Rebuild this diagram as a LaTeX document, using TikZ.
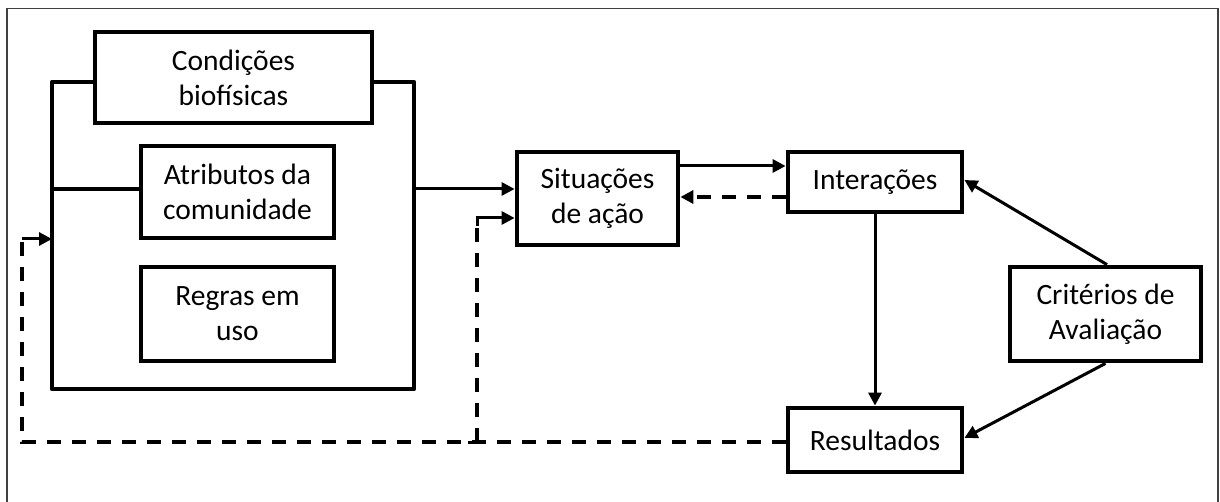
\documentclass[tikz,border=0pt]{standalone}
\usepackage{fontspec}
\setmainfont{Carlito}
\usetikzlibrary{arrows.meta}
\tikzset{
  box/.style={draw, line width=4.8pt, align=center, inner sep=0pt,
    font=\fontsize{29.5}{35}\selectfont},
  tip/.style={-{Triangle[length=13pt,width=13pt]}},
  link/.style={line width=3pt, tip},
  back/.style={line width=3.2pt, dash pattern=on 14pt off 11pt},
}
\begin{document}
\begin{tikzpicture}[x=1pt,y=-1pt]
\useasboundingbox (0,0) rectangle (1220,502);
% page frame (open at the bottom)
\draw[line width=1.4pt, black!75] (7,502) -- (7,8.5) -- (1218,8.5) -- (1218,502);

% boxes
\node[box, minimum width=277pt, minimum height=91pt] (cond) at (233.5,77.5) {Condições\\biofísicas};
\node[box, minimum width=193pt, minimum height=92pt] (attr) at (237.5,192) {Atributos da\\comunidade};
\node[box, minimum width=193pt, minimum height=94pt] (regr) at (237.5,314) {Regras em\\uso};
\node[box, minimum width=161pt, minimum height=93pt] (sit) at (597.5,198.5) {Situações\\de ação};
\node[box, minimum width=174pt, minimum height=60pt] (inter) at (875,182) {Interações};
\node[box, minimum width=174pt, minimum height=64pt] (res) at (875,440) {Resultados};
\node[box, minimum width=191pt, minimum height=94pt] (crit) at (1105.5,314) {Critérios de\\Avaliação};

% grouping frame around the contextual variables
\coordinate (gL) at (52,189);
\coordinate (gR) at (414,189);
\coordinate (gIn) at (52,239);
\draw[line width=4.8pt, line join=round]
  (cond.west |- 0,82) -- (52,82) -- (52,389) -- (414,389) -- (414,82) -- (cond.east |- 0,82);
\draw[line width=4.8pt] (gL) -- (attr.west |- gL);

% main flow
\draw[link] (gR) -- (sit.west |- gR);
\draw[link] (sit.east |- 0,166) -- (inter.west |- 0,166);
\draw[back, tip] (inter.west |- 0,197) -- (sit.east |- 0,197);
\draw[link] (inter.south) -- (res.north);
\draw[link] (crit.north) ++(1.5,0) -- (inter.east |- 0,180);
\draw[link] (crit.south) -- (res.east |- 0,438);

% feedback from outcomes
\coordinate (fb) at (477,442);
\coordinate (fbL) at (22,442);
\draw[back] (res.west |- fb) -- (fbL) -- (fbL |- gIn);
\draw[link] (fbL |- gIn) -- (gIn);
\draw[back] (fb) -- (477,226);
\draw[link] (477,226) -- (477,218) -- (sit.west |- 0,218);
\draw[line width=3pt] (468,442) -- (486,442);
\end{tikzpicture}
\end{document}
